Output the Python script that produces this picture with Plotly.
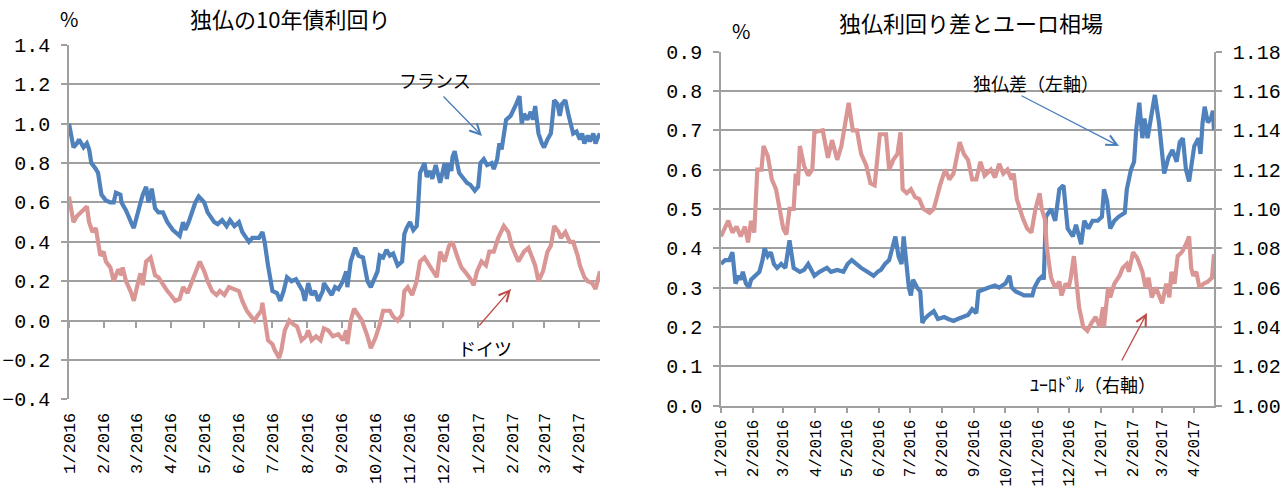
import plotly.graph_objects as go

# ---------------- data ----------------
month_ticks = ["2016-01-01", "2016-02-01", "2016-03-01", "2016-04-01", "2016-05-01", "2016-06-01",
               "2016-07-01", "2016-08-01", "2016-09-01", "2016-10-01", "2016-11-01", "2016-12-01",
               "2017-01-01", "2017-02-01", "2017-03-01", "2017-04-01"]
month_labels = ["1/2016", "2/2016", "3/2016", "4/2016", "5/2016", "6/2016", "7/2016", "8/2016",
                "9/2016", "10/2016", "11/2016", "12/2016", "1/2017", "2/2017", "3/2017", "4/2017"]
x_range = ["2016-01-01", "2017-04-20"]

france_dates = ["2016-01-01", "2016-01-05", "2016-01-08", "2016-01-10", "2016-01-14", "2016-01-17",
                "2016-01-19", "2016-01-21", "2016-01-25", "2016-01-27", "2016-01-30", "2016-02-03",
                "2016-02-07", "2016-02-10", "2016-02-12", "2016-02-16", "2016-02-17", "2016-02-21",
                "2016-02-27", "2016-02-28", "2016-03-05", "2016-03-07", "2016-03-10", "2016-03-12",
                "2016-03-15", "2016-03-18", "2016-03-21", "2016-03-25", "2016-03-29", "2016-04-03",
                "2016-04-07", "2016-04-09", "2016-04-12", "2016-04-14", "2016-04-17", "2016-04-20",
                "2016-04-23", "2016-04-26", "2016-05-01", "2016-05-04", "2016-05-10", "2016-05-13",
                "2016-05-17", "2016-05-21", "2016-05-24", "2016-05-28", "2016-06-01", "2016-06-04",
                "2016-06-08", "2016-06-10", "2016-06-13", "2016-06-19", "2016-06-22", "2016-06-24",
                "2016-06-27", "2016-07-01", "2016-07-05", "2016-07-08", "2016-07-11", "2016-07-14",
                "2016-07-18", "2016-07-22", "2016-07-25", "2016-07-28", "2016-07-30", "2016-08-02",
                "2016-08-05", "2016-08-08", "2016-08-11", "2016-08-15", "2016-08-16", "2016-08-20",
                "2016-08-23", "2016-08-26", "2016-08-29", "2016-09-02", "2016-09-05", "2016-09-06",
                "2016-09-09", "2016-09-13", "2016-09-16", "2016-09-20", "2016-09-22", "2016-09-24",
                "2016-09-27", "2016-09-29", "2016-10-03", "2016-10-05", "2016-10-08", "2016-10-11",
                "2016-10-14", "2016-10-17", "2016-10-21", "2016-10-25", "2016-10-27", "2016-10-29",
                "2016-11-01", "2016-11-04", "2016-11-07", "2016-11-08", "2016-11-10", "2016-11-14",
                "2016-11-16", "2016-11-19", "2016-11-21", "2016-11-24", "2016-11-28", "2016-12-02",
                "2016-12-04", "2016-12-06", "2016-12-08", "2016-12-09", "2016-12-11", "2016-12-15",
                "2016-12-19", "2016-12-22", "2016-12-25", "2016-12-29", "2017-01-01", "2017-01-03",
                "2017-01-06", "2017-01-09", "2017-01-13", "2017-01-15", "2017-01-18", "2017-01-20",
                "2017-01-22", "2017-01-24", "2017-01-26", "2017-01-30", "2017-02-02", "2017-02-04",
                "2017-02-07", "2017-02-09", "2017-02-11", "2017-02-14", "2017-02-17", "2017-02-19",
                "2017-02-21", "2017-02-24", "2017-02-27", "2017-03-01", "2017-03-04", "2017-03-07",
                "2017-03-08", "2017-03-10", "2017-03-13", "2017-03-15", "2017-03-17", "2017-03-20",
                "2017-03-23", "2017-03-26", "2017-03-27", "2017-03-30", "2017-04-02", "2017-04-04",
                "2017-04-06", "2017-04-09", "2017-04-11", "2017-04-14", "2017-04-16", "2017-04-18",
                "2017-04-20"]
france_vals = [1.00, 0.88, 0.90, 0.92, 0.88, 0.90, 0.87, 0.80, 0.77, 0.75, 0.64, 0.61,
               0.60, 0.60, 0.65, 0.64, 0.60, 0.56, 0.48, 0.47, 0.60, 0.64, 0.68, 0.60,
               0.67, 0.57, 0.55, 0.55, 0.50, 0.46, 0.44, 0.43, 0.50, 0.46, 0.50, 0.55,
               0.60, 0.63, 0.60, 0.55, 0.50, 0.49, 0.51, 0.48, 0.51, 0.48, 0.50, 0.45,
               0.42, 0.40, 0.42, 0.42, 0.45, 0.40, 0.28, 0.15, 0.14, 0.10, 0.15, 0.22,
               0.20, 0.21, 0.18, 0.15, 0.10, 0.19, 0.13, 0.15, 0.10, 0.15, 0.19, 0.15,
               0.13, 0.17, 0.16, 0.20, 0.25, 0.17, 0.30, 0.37, 0.33, 0.32, 0.25, 0.20,
               0.17, 0.20, 0.25, 0.33, 0.32, 0.36, 0.33, 0.34, 0.28, 0.30, 0.44, 0.47,
               0.50, 0.46, 0.48, 0.55, 0.75, 0.80, 0.73, 0.76, 0.72, 0.79, 0.70, 0.80,
               0.72, 0.80, 0.76, 0.83, 0.86, 0.75, 0.72, 0.70, 0.69, 0.66, 0.68, 0.80,
               0.82, 0.79, 0.80, 0.77, 0.82, 0.90, 0.87, 0.95, 1.02, 1.04, 1.07, 1.10,
               1.14, 1.00, 1.05, 1.02, 1.06, 1.02, 1.09, 0.95, 0.90, 0.88, 0.92, 0.95,
               1.00, 1.12, 1.10, 1.04, 1.10, 1.12, 1.04, 0.97, 0.95, 0.96, 0.92, 0.95,
               0.90, 0.94, 0.91, 0.95, 0.90, 0.93, 0.95]

germany_dates = ["2016-01-01", "2016-01-05", "2016-01-08", "2016-01-12", "2016-01-15", "2016-01-17",
                 "2016-01-19", "2016-01-22", "2016-01-25", "2016-01-27", "2016-01-29", "2016-02-01",
                 "2016-02-03", "2016-02-07", "2016-02-10", "2016-02-14", "2016-02-17", "2016-02-18",
                 "2016-02-21", "2016-02-25", "2016-02-28", "2016-03-03", "2016-03-05", "2016-03-07",
                 "2016-03-10", "2016-03-14", "2016-03-18", "2016-03-21", "2016-03-25", "2016-03-29",
                 "2016-04-01", "2016-04-05", "2016-04-09", "2016-04-12", "2016-04-16", "2016-04-20",
                 "2016-04-23", "2016-04-27", "2016-05-01", "2016-05-04", "2016-05-08", "2016-05-12",
                 "2016-05-15", "2016-05-19", "2016-05-23", "2016-05-28", "2016-06-01", "2016-06-04",
                 "2016-06-08", "2016-06-12", "2016-06-15", "2016-06-17", "2016-06-21", "2016-06-22",
                 "2016-06-24", "2016-06-27", "2016-07-01", "2016-07-03", "2016-07-07", "2016-07-09",
                 "2016-07-12", "2016-07-16", "2016-07-20", "2016-07-23", "2016-07-27", "2016-07-31",
                 "2016-08-02", "2016-08-05", "2016-08-09", "2016-08-13", "2016-08-16", "2016-08-20",
                 "2016-08-24", "2016-08-29", "2016-09-02", "2016-09-05", "2016-09-06", "2016-09-09",
                 "2016-09-12", "2016-09-16", "2016-09-19", "2016-09-24", "2016-09-27", "2016-10-01",
                 "2016-10-05", "2016-10-08", "2016-10-14", "2016-10-17", "2016-10-21", "2016-10-25",
                 "2016-10-27", "2016-10-30", "2016-11-03", "2016-11-07", "2016-11-10", "2016-11-14",
                 "2016-11-18", "2016-11-21", "2016-11-25", "2016-11-28", "2016-12-02", "2016-12-06",
                 "2016-12-09", "2016-12-13", "2016-12-17", "2016-12-20", "2016-12-24", "2016-12-28",
                 "2016-12-31", "2017-01-04", "2017-01-08", "2017-01-11", "2017-01-15", "2017-01-19",
                 "2017-01-24", "2017-01-28", "2017-01-31", "2017-02-06", "2017-02-11", "2017-02-15",
                 "2017-02-19", "2017-02-21", "2017-02-24", "2017-02-28", "2017-03-04", "2017-03-07",
                 "2017-03-10", "2017-03-14", "2017-03-16", "2017-03-20", "2017-03-24", "2017-03-27",
                 "2017-03-31", "2017-04-02", "2017-04-06", "2017-04-09", "2017-04-13", "2017-04-16",
                 "2017-04-20"]
germany_vals = [0.63, 0.50, 0.53, 0.55, 0.57, 0.58, 0.50, 0.45, 0.47, 0.40, 0.33, 0.35,
                0.30, 0.27, 0.20, 0.26, 0.23, 0.27, 0.20, 0.15, 0.10, 0.20, 0.24, 0.18,
                0.30, 0.32, 0.23, 0.22, 0.18, 0.15, 0.13, 0.10, 0.11, 0.17, 0.14, 0.20,
                0.25, 0.30, 0.25, 0.20, 0.15, 0.13, 0.15, 0.13, 0.17, 0.16, 0.15, 0.10,
                0.05, 0.02, 0.00, 0.02, 0.05, 0.09, 0.00, -0.10, -0.12, -0.15, -0.19, -0.15,
                -0.05, 0.00, -0.02, -0.03, -0.10, -0.08, -0.05, -0.10, -0.08, -0.10, -0.04, -0.05,
                -0.08, -0.07, -0.10, -0.05, -0.12, 0.00, 0.06, 0.02, 0.00, -0.08, -0.14, -0.09,
                -0.02, 0.05, 0.05, 0.02, 0.00, 0.03, 0.15, 0.17, 0.13, 0.20, 0.30, 0.32,
                0.28, 0.25, 0.22, 0.35, 0.30, 0.38, 0.40, 0.33, 0.27, 0.25, 0.22, 0.18,
                0.25, 0.30, 0.28, 0.35, 0.35, 0.42, 0.48, 0.45, 0.38, 0.30, 0.35, 0.37,
                0.30, 0.28, 0.20, 0.25, 0.35, 0.38, 0.48, 0.45, 0.42, 0.45, 0.40, 0.40,
                0.33, 0.28, 0.22, 0.20, 0.19, 0.16, 0.25]

spread_dates = ["2016-01-01", "2016-01-05", "2016-01-09", "2016-01-12", "2016-01-15", "2016-01-18",
                "2016-01-20", "2016-01-22", "2016-01-25", "2016-01-28", "2016-01-30", "2016-02-03",
                "2016-02-07", "2016-02-10", "2016-02-12", "2016-02-15", "2016-02-18", "2016-02-21",
                "2016-02-24", "2016-02-28", "2016-03-03", "2016-03-07", "2016-03-11", "2016-03-17",
                "2016-03-21", "2016-03-25", "2016-03-31", "2016-04-05", "2016-04-09", "2016-04-12",
                "2016-04-16", "2016-04-22", "2016-04-28", "2016-05-02", "2016-05-06", "2016-05-10",
                "2016-05-15", "2016-05-21", "2016-05-27", "2016-05-31", "2016-06-03", "2016-06-07",
                "2016-06-11", "2016-06-14", "2016-06-17", "2016-06-20", "2016-06-23", "2016-06-25",
                "2016-06-27", "2016-06-30", "2016-07-02", "2016-07-04", "2016-07-08", "2016-07-11",
                "2016-07-13", "2016-07-15", "2016-07-19", "2016-07-24", "2016-07-28", "2016-08-03",
                "2016-08-07", "2016-08-12", "2016-08-16", "2016-08-20", "2016-08-26", "2016-08-30",
                "2016-09-03", "2016-09-05", "2016-09-09", "2016-09-15", "2016-09-21", "2016-09-25",
                "2016-10-01", "2016-10-05", "2016-10-07", "2016-10-11", "2016-10-15", "2016-10-19",
                "2016-10-27", "2016-10-29", "2016-11-02", "2016-11-06", "2016-11-07", "2016-11-09",
                "2016-11-14", "2016-11-18", "2016-11-22", "2016-11-26", "2016-11-30", "2016-12-05",
                "2016-12-08", "2016-12-13", "2016-12-16", "2016-12-20", "2016-12-24", "2016-12-29",
                "2017-01-02", "2017-01-04", "2017-01-07", "2017-01-10", "2017-01-14", "2017-01-18",
                "2017-01-24", "2017-01-26", "2017-01-30", "2017-02-02", "2017-02-04", "2017-02-07",
                "2017-02-10", "2017-02-12", "2017-02-15", "2017-02-19", "2017-02-22", "2017-02-26",
                "2017-03-01", "2017-03-03", "2017-03-07", "2017-03-11", "2017-03-15", "2017-03-18",
                "2017-03-21", "2017-03-24", "2017-03-27", "2017-03-29", "2017-04-01", "2017-04-05",
                "2017-04-07", "2017-04-09", "2017-04-11", "2017-04-14", "2017-04-17", "2017-04-19",
                "2017-04-20"]
spread_vals = [0.36, 0.37, 0.37, 0.39, 0.31, 0.33, 0.32, 0.34, 0.31, 0.30, 0.32, 0.33,
               0.34, 0.37, 0.40, 0.38, 0.39, 0.36, 0.35, 0.36, 0.35, 0.42, 0.35, 0.34,
               0.345, 0.36, 0.33, 0.34, 0.345, 0.35, 0.34, 0.345, 0.34, 0.36, 0.37, 0.36,
               0.35, 0.34, 0.33, 0.34, 0.345, 0.36, 0.37, 0.40, 0.43, 0.38, 0.36, 0.43,
               0.38, 0.30, 0.28, 0.32, 0.30, 0.29, 0.21, 0.22, 0.23, 0.24, 0.22, 0.225,
               0.22, 0.215, 0.22, 0.225, 0.23, 0.245, 0.235, 0.29, 0.295, 0.30, 0.305, 0.30,
               0.31, 0.33, 0.30, 0.29, 0.285, 0.28, 0.28, 0.30, 0.32, 0.33, 0.32, 0.48,
               0.50, 0.47, 0.55, 0.56, 0.45, 0.43, 0.46, 0.41, 0.47, 0.45, 0.47, 0.47,
               0.48, 0.55, 0.52, 0.45, 0.47, 0.48, 0.49, 0.55, 0.60, 0.62, 0.70, 0.77,
               0.68, 0.73, 0.68, 0.74, 0.79, 0.72, 0.65, 0.59, 0.63, 0.65, 0.62, 0.67,
               0.68, 0.60, 0.57, 0.60, 0.66, 0.68, 0.64, 0.72, 0.76, 0.72, 0.73, 0.75,
               0.70]

eurusd_dates = ["2016-01-01", "2016-01-08", "2016-01-12", "2016-01-16", "2016-01-20", "2016-01-24",
                "2016-01-27", "2016-01-30", "2016-02-02", "2016-02-05", "2016-02-09", "2016-02-11",
                "2016-02-15", "2016-02-19", "2016-02-23", "2016-02-27", "2016-03-01", "2016-03-04",
                "2016-03-07", "2016-03-11", "2016-03-13", "2016-03-15", "2016-03-17", "2016-03-21",
                "2016-03-25", "2016-03-29", "2016-03-31", "2016-04-08", "2016-04-13", "2016-04-17",
                "2016-04-22", "2016-04-26", "2016-04-30", "2016-05-03", "2016-05-07", "2016-05-11",
                "2016-05-15", "2016-05-20", "2016-05-24", "2016-05-28", "2016-06-02", "2016-06-08",
                "2016-06-11", "2016-06-15", "2016-06-19", "2016-06-22", "2016-06-24", "2016-06-28",
                "2016-07-02", "2016-07-06", "2016-07-10", "2016-07-14", "2016-07-20", "2016-07-24",
                "2016-07-30", "2016-08-04", "2016-08-08", "2016-08-12", "2016-08-18", "2016-08-22",
                "2016-08-26", "2016-08-30", "2016-09-03", "2016-09-07", "2016-09-11", "2016-09-17",
                "2016-09-21", "2016-09-25", "2016-09-29", "2016-10-03", "2016-10-07", "2016-10-09",
                "2016-10-12", "2016-10-16", "2016-10-18", "2016-10-22", "2016-10-26", "2016-10-30",
                "2016-11-03", "2016-11-05", "2016-11-08", "2016-11-10", "2016-11-14", "2016-11-18",
                "2016-11-22", "2016-11-24", "2016-11-28", "2016-12-01", "2016-12-03", "2016-12-06",
                "2016-12-09", "2016-12-11", "2016-12-15", "2016-12-19", "2016-12-23", "2016-12-27",
                "2016-12-31", "2017-01-03", "2017-01-04", "2017-01-08", "2017-01-10", "2017-01-14",
                "2017-01-19", "2017-01-22", "2017-01-26", "2017-01-28", "2017-02-01", "2017-02-05",
                "2017-02-10", "2017-02-13", "2017-02-16", "2017-02-19", "2017-02-23", "2017-03-01",
                "2017-03-05", "2017-03-08", "2017-03-10", "2017-03-13", "2017-03-16", "2017-03-20",
                "2017-03-24", "2017-03-27", "2017-03-29", "2017-03-31", "2017-04-03", "2017-04-06",
                "2017-04-10", "2017-04-14", "2017-04-18", "2017-04-20"]
eurusd_vals = [1.086, 1.094, 1.088, 1.091, 1.086, 1.091, 1.083, 1.094, 1.088, 1.120, 1.120, 1.132,
               1.127, 1.115, 1.110, 1.100, 1.090, 1.087, 1.100, 1.100, 1.118, 1.112, 1.132, 1.122,
               1.117, 1.120, 1.139, 1.140, 1.126, 1.135, 1.125, 1.132, 1.145, 1.154, 1.140, 1.140,
               1.128, 1.122, 1.113, 1.112, 1.138, 1.138, 1.120, 1.125, 1.128, 1.139, 1.110, 1.108,
               1.110, 1.106, 1.105, 1.100, 1.098, 1.100, 1.112, 1.120, 1.115, 1.118, 1.134, 1.128,
               1.125, 1.115, 1.115, 1.124, 1.117, 1.120, 1.116, 1.123, 1.118, 1.120, 1.115, 1.118,
               1.105, 1.098, 1.095, 1.090, 1.088, 1.100, 1.108, 1.100, 1.095, 1.080, 1.065, 1.060,
               1.063, 1.056, 1.062, 1.060, 1.065, 1.076, 1.060, 1.050, 1.040, 1.038, 1.042, 1.045,
               1.040, 1.050, 1.040, 1.060, 1.055, 1.062, 1.066, 1.070, 1.072, 1.068, 1.078, 1.075,
               1.068, 1.060, 1.065, 1.055, 1.060, 1.052, 1.062, 1.055, 1.068, 1.062, 1.076, 1.078,
               1.082, 1.086, 1.070, 1.066, 1.068, 1.060, 1.062, 1.063, 1.065, 1.077]

# ---------------- style ----------------
W, H = 1288, 492
BLUE = "#4f81bd"
PINK = "#d99694"
GRID = "#a0a0a0"
TICKFONT = "Liberation Mono, DejaVu Sans Mono, monospace"
TEXTFONT = "Noto Sans CJK JP, sans-serif"


def px(x):
    return x / W


def py(y):
    return 1 - y / H


fig = go.Figure()
fig.add_trace(go.Scatter(x=france_dates, y=france_vals, mode="lines", line=dict(color=BLUE, width=4.2),
                         xaxis="x", yaxis="y", showlegend=False))
fig.add_trace(go.Scatter(x=germany_dates, y=germany_vals, mode="lines", line=dict(color=PINK, width=4.2),
                         xaxis="x", yaxis="y", showlegend=False))
# helper (invisible) trace so that the tick axis at y=0 gets drawn
fig.add_trace(go.Scatter(x=france_dates, y=france_vals, mode="lines", line=dict(width=0), opacity=0,
                         xaxis="x3", yaxis="y", showlegend=False, hoverinfo="skip"))
fig.add_trace(go.Scatter(x=spread_dates, y=spread_vals, mode="lines", line=dict(color=BLUE, width=4.2),
                         xaxis="x2", yaxis="y2", showlegend=False))
fig.add_trace(go.Scatter(x=eurusd_dates, y=eurusd_vals, mode="lines", line=dict(color=PINK, width=4.2),
                         xaxis="x2", yaxis="y3", showlegend=False))

tickfont_x = dict(family=TICKFONT, size=17, color="#000")
tickfont_x2 = dict(family=TICKFONT, size=16, color="#000")
tickfont_y = dict(family=TICKFONT, size=20, color="#000")

common_x = dict(type="date", range=x_range, tickmode="array", tickvals=month_ticks, ticktext=month_labels,
                tickangle=-90, tickfont=tickfont_x, showgrid=False, zeroline=False, automargin=False,
                fixedrange=True)

fig.update_layout(
    width=W, height=H, margin=dict(l=0, r=0, t=0, b=0),
    paper_bgcolor="white", plot_bgcolor="white", showlegend=False,
    xaxis=dict(common_x, domain=[px(69), px(600)], anchor="y", ticks="", showline=False,
               ticklabelstandoff=9),
    xaxis3=dict(common_x, domain=[px(69), px(600)], anchor="free", overlaying="x",
                position=py(320.7), ticks="outside", ticklen=6, tickwidth=1.5, tickcolor=GRID,
                showticklabels=False, showline=False),
    yaxis=dict(domain=[py(399.3), py(45)], range=[-0.4, 1.4], tick0=-0.4, dtick=0.2, tickformat=".1f",
               showgrid=True, gridcolor=GRID, gridwidth=1.5, zeroline=False, showline=True,
               linecolor=GRID, linewidth=1.5, ticks="outside", ticklen=6, tickwidth=1.5, tickcolor=GRID,
               tickfont=tickfont_y, anchor="x", automargin=False, fixedrange=True, ticklabelstandoff=7),
    xaxis2=dict(common_x, domain=[px(721), px(1214)], anchor="y2", ticks="outside", ticklen=6,
                tickwidth=1.5, tickcolor=GRID, showline=True, linecolor=GRID, linewidth=1.5,
                tickfont=tickfont_x2, ticklabelstandoff=0),
    yaxis2=dict(domain=[py(405.5), py(51.7)], range=[0, 0.9], tick0=0, dtick=0.1, tickformat=".1f",
                showgrid=True, gridcolor=GRID, gridwidth=1.5, zeroline=False, showline=True,
                linecolor=GRID, linewidth=1.5, ticks="outside", ticklen=6, tickwidth=1.5, tickcolor=GRID,
                tickfont=tickfont_y, anchor="x2", automargin=False, fixedrange=True, ticklabelstandoff=7),
    yaxis3=dict(range=[1.0, 1.18], tick0=1.0, dtick=0.02, tickformat=".2f", overlaying="y2", side="right",
                anchor="x2", showgrid=False, zeroline=False, showline=True, linecolor=GRID, linewidth=1.5,
                ticks="outside", ticklen=6, tickwidth=1.5, tickcolor=GRID, tickfont=tickfont_y,
                automargin=False, fixedrange=True, ticklabelstandoff=7),
)

annotations = []


def text_ann(x, y, s, size, color="#000"):
    annotations.append(dict(x=px(x), y=py(y), xref="paper", yref="paper", text=s, showarrow=False,
                            xanchor="center", yanchor="middle",
                            font=dict(family=TEXTFONT, size=size, color=color)))


def arrow_ann(tail, head, color):
    annotations.append(dict(x=px(head[0]), y=py(head[1]), xref="paper", yref="paper", text="",
                            showarrow=True, ax=tail[0] - head[0], ay=tail[1] - head[1],
                            axref="pixel", ayref="pixel", arrowhead=5, arrowsize=1.6, arrowwidth=1.3,
                            arrowcolor=color, standoff=0, startstandoff=0))


text_ann(290, 18, "独仏の10年債利回り", 22)
text_ann(971, 22, "独仏利回り差とユーロ相場", 22)
text_ann(69, 19, "%", 20)
text_ann(741, 30, "%", 20)
text_ann(435, 80, "フランス", 18)
text_ann(485, 348, "ドイツ", 18)
text_ann(1036, 83, "独仏差（左軸）", 18)
text_ann(1093, 384, "ﾕｰﾛﾄﾞﾙ（右軸）", 18)
arrow_ann((442, 95), (482, 136), "#4a7ebb")
arrow_ann((478, 327), (511, 289), "#be4b48")
arrow_ann((1020, 95), (1119, 146), "#4a7ebb")
arrow_ann((1121, 362), (1147, 313), "#be4b48")

fig.update_layout(annotations=annotations)
fig.write_html("out.html")
